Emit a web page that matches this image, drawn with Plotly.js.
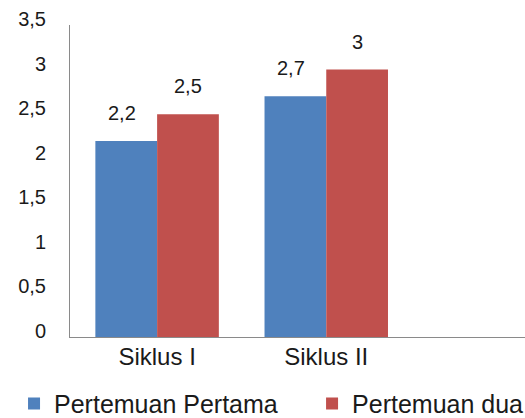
<!DOCTYPE html>
<html>
<head>
<meta charset="utf-8">
<script src="https://cdn.plot.ly/plotly-3.0.1.min.js"></script>
<style>html,body{margin:0;padding:0;background:#fff;}#chart{width:525px;height:418px;}</style>
</head>
<body>
<div id="chart"></div>
<script>
var categories = ["Siklus I", "Siklus II"];
var seriesNames = ["Pertemuan Pertama", "Pertemuan dua"];
var pertemuanPertama = [2.2, 2.7];
var pertemuanDua = [2.5, 3];
var yTickVals = [0, 0.5, 1, 1.5, 2, 2.5, 3, 3.5];
var yTickText = ["0", "0,5", "1", "1,5", "2", "2,5", "3", "3,5"];

var colors = ["#4F81BD", "#C0504D"];
var fontFam = "Liberation Sans, Arial, sans-serif";
var allSeries = [pertemuanPertama, pertemuanDua];
var legendIds = ["legend", "legend2"];

var traces = allSeries.map(function (vals, i) {
  return {
    type: "bar",
    name: seriesNames[i],
    x: categories,
    y: vals,
    legend: legendIds[i],
    marker: { color: colors[i] },
    hoverinfo: "x+y+name"
  };
});

function fmt(v) { return String(v).replace(".", ","); }

var annotations = [];
var barFrac = (1 - 0.27) / 2;
allSeries.forEach(function (vals, i) {
  vals.forEach(function (v, j) {
    var off = (i === 0 ? -0.5 : 0.5) * barFrac;
    annotations.push({
      x: j + off, y: v, xref: "x", yref: "y",
      text: fmt(v), showarrow: false,
      yanchor: "middle", xanchor: "center",
      yshift: 28, xshift: i === 0 ? -4 : 0,
      font: { family: fontFam, size: 20, color: "#1a1a1a" }
    });
  });
});

var legendFont = { family: fontFam, size: 25, color: "#1a1a1a" };

var layout = {
  width: 525, height: 418,
  margin: { l: 70, r: 0, t: 25, b: 81, pad: 0, autoexpand: false },
  paper_bgcolor: "#ffffff", plot_bgcolor: "#ffffff",
  barmode: "group", bargap: 0.27, bargroupgap: 0,
  showlegend: true,
  legend: {
    orientation: "h",
    x: -0.123, xanchor: "left", y: -0.14, yanchor: "top",
    font: legendFont, bgcolor: "rgba(0,0,0,0)"
  },
  legend2: {
    orientation: "h",
    x: 0.532, xanchor: "left", y: -0.14, yanchor: "top",
    font: legendFont, bgcolor: "rgba(0,0,0,0)"
  },
  xaxis: {
    type: "category", range: [-0.515, 2.175],
    showline: true, linecolor: "#8a8a8a", linewidth: 1,
    showgrid: false, zeroline: false, ticks: "", automargin: false,
    tickfont: { family: fontFam, size: 24, color: "#1a1a1a" },
    ticklabelstandoff: -2, fixedrange: true
  },
  yaxis: {
    range: [0, 3.5], tickvals: yTickVals, ticktext: yTickText,
    showline: true, linecolor: "#8a8a8a", linewidth: 1,
    showgrid: false, zeroline: false, ticks: "", automargin: false,
    tickfont: { family: fontFam, size: 20, color: "#1a1a1a" },
    ticklabelstandoff: 19, ticklabelshift: -6, fixedrange: true
  },
  annotations: annotations
};

Plotly.newPlot("chart", traces, layout, { displayModeBar: false, staticPlot: true });
</script>
</body>
</html>
